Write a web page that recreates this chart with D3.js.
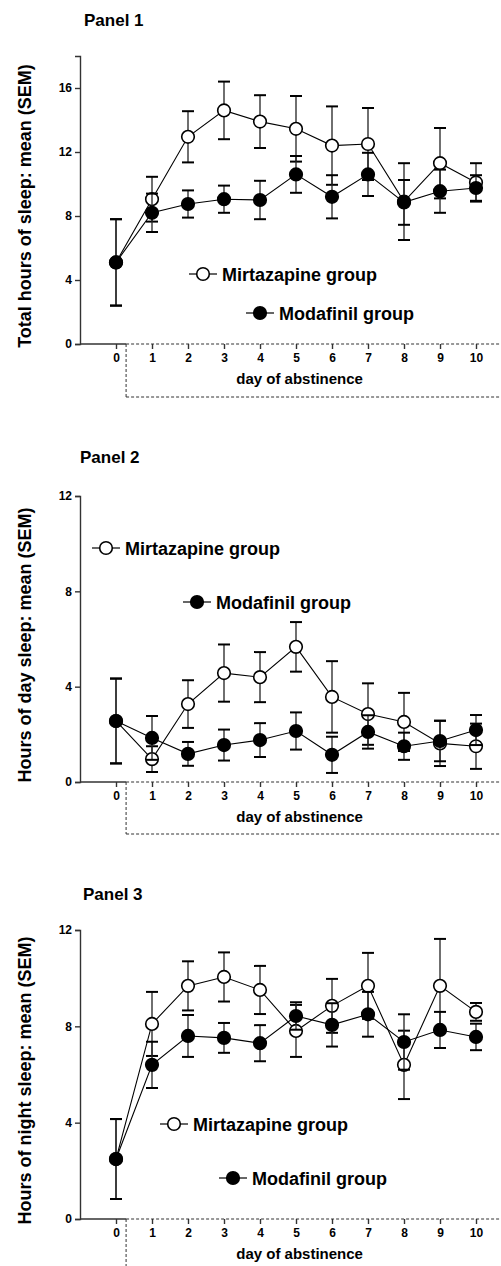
<!DOCTYPE html>
<html>
<head>
<meta charset="utf-8">
<script src="https://cdn.jsdelivr.net/npm/d3@7"></script>
<style>
  html, body { margin: 0; padding: 0; background: #fff; }
  svg { display: block; font-family: "Liberation Sans", Arial, sans-serif; font-weight: bold; }
</style>
</head>
<body>
<svg id="chart" width="501" height="1266"></svg>
<script>
// Days of abstinence on the x axis
const days = [0, 1, 2, 3, 4, 5, 6, 7, 8, 9, 10];

// Panel 1: total hours of sleep
const totalMirtazapine    = [5.1, 9.05, 12.95, 14.6, 13.9, 13.45, 12.4, 12.5, 8.9, 11.3, 10.1];
const totalMirtazapineSem = [2.7, 1.4, 1.6, 1.8, 1.65, 2.05, 2.45, 2.25, 2.4, 2.2, 1.2];
const totalModafinil      = [5.1, 8.2, 8.75, 9.05, 9.0, 10.6, 9.2, 10.6, 8.85, 9.55, 9.75];
const totalModafinilSem   = [2.7, 1.2, 0.85, 0.85, 1.2, 1.15, 1.35, 1.35, 1.4, 1.35, 0.8];

// Panel 2: hours of day sleep
const dayMirtazapine    = [2.56, 0.96, 3.27, 4.57, 4.4, 5.67, 3.57, 2.85, 2.52, 1.62, 1.5];
const dayMirtazapineSem = [1.78, 0.54, 1.0, 1.2, 1.05, 1.04, 1.5, 1.29, 1.22, 0.95, 0.95];
const dayModafinil      = [2.56, 1.85, 1.18, 1.55, 1.76, 2.14, 1.14, 2.1, 1.5, 1.72, 2.18];
const dayModafinilSem   = [1.78, 0.92, 0.5, 0.65, 0.71, 0.78, 0.76, 0.7, 0.57, 0.85, 0.63];

// Panel 3: hours of night sleep
const nightMirtazapine    = [2.49, 8.1, 9.68, 10.05, 9.51, 7.81, 8.85, 9.68, 6.4, 9.68, 8.6];
const nightMirtazapineSem = [1.66, 1.33, 1.02, 1.02, 1.0, 1.08, 1.12, 1.37, 1.42, 1.95, 0.37];
const nightModafinil      = [2.49, 6.4, 7.6, 7.52, 7.3, 8.43, 8.06, 8.5, 7.35, 7.85, 7.56];
const nightModafinilSem   = [1.66, 0.96, 0.87, 0.62, 0.75, 0.57, 0.9, 0.93, 1.15, 0.75, 0.55];

// Tick labels
const yTicksTotal = [0, 4, 8, 12, 16];
const yTicksPart  = [0, 4, 8, 12];

const seriesNames = ["Mirtazapine group", "Modafinil group"];
const panelTitles = ["Panel 1", "Panel 2", "Panel 3"];
const yTitles = [
  "Total hours of sleep: mean (SEM)",
  "Hours of day sleep: mean (SEM)",
  "Hours of night sleep: mean (SEM)"
];
const xTitle = "day of abstinence";

// Layout of each panel (pixels)
const layout = [
  { yMax: 18, ticks: yTicksTotal, top: 56,  bottom: 344,  titleX: 84, titleY: 26,
    boxBottom: 397, legend: [[203, 274], [260, 313]],
    mean: [totalMirtazapine, totalModafinil], sem: [totalMirtazapineSem, totalModafinilSem] },
  { yMax: 12, ticks: yTicksPart,  top: 496, bottom: 782,  titleX: 80, titleY: 463,
    boxBottom: 834, legend: [[106, 548], [197, 602]],
    mean: [dayMirtazapine, dayModafinil], sem: [dayMirtazapineSem, dayModafinilSem] },
  { yMax: 12, ticks: yTicksPart,  top: 930, bottom: 1219, titleX: 83, titleY: 900,
    boxBottom: null, legend: [[174, 1124], [233, 1178]],
    mean: [nightMirtazapine, nightModafinil], sem: [nightMirtazapineSem, nightModafinilSem] }
];

const svg = d3.select("#chart");
const x = d3.scaleLinear().domain([-1, 10.7]).range([80, 501.2]);
const boxLeft = x(0.28);
const ink = "#000";
const axisInk = "#333";
const R = 6.3;

function marker(g, cx, cy, filled) {
  g.append("circle")
    .attr("cx", cx).attr("cy", cy).attr("r", R)
    .attr("fill", filled ? ink : "#fff")
    .attr("stroke", ink).attr("stroke-width", 1.6);
}

layout.forEach((p, i) => {
  const g = svg.append("g");
  const y = d3.scaleLinear().domain([0, p.yMax]).range([p.bottom, p.top]);

  // panel title
  g.append("text").attr("x", p.titleX).attr("y", p.titleY)
    .attr("font-size", 17).text(panelTitles[i]);

  // y axis
  const yAxis = g.append("g").attr("transform", `translate(${x(-1)},0)`)
    .call(d3.axisLeft(y).tickValues(p.ticks).tickSize(5).tickPadding(3).tickFormat(d3.format("d")));
  yAxis.select(".domain").attr("stroke", axisInk).attr("stroke-width", 1.4);
  yAxis.selectAll(".tick line").attr("stroke", axisInk).attr("stroke-width", 1.4);
  yAxis.selectAll(".tick text").attr("font-size", 12).attr("font-family", "Liberation Sans, Arial, sans-serif")
    .attr("font-weight", "bold").attr("fill", ink);

  // y title
  g.append("text")
    .attr("transform", `translate(31,${(p.top + p.bottom) / 2 + (i === 0 ? 6 : 6)}) rotate(-90)`)
    .attr("text-anchor", "middle").attr("font-size", 18).text(yTitles[i]);

  // x axis (ticks and labels)
  const xAxis = g.append("g").attr("transform", `translate(0,${p.bottom})`)
    .call(d3.axisBottom(x).tickValues(days).tickSize(5).tickPadding(4).tickFormat(d3.format("d")));
  xAxis.select(".domain").remove();
  xAxis.selectAll(".tick line").attr("stroke", axisInk).attr("stroke-width", 1.4);
  xAxis.selectAll(".tick text").attr("font-size", 12).attr("font-family", "Liberation Sans, Arial, sans-serif")
    .attr("font-weight", "bold").attr("fill", ink);

  // solid start of the x axis line
  g.append("line").attr("x1", x(-1)).attr("x2", boxLeft)
    .attr("y1", p.bottom).attr("y2", p.bottom)
    .attr("stroke", axisInk).attr("stroke-width", 1.4);

  // dashed frame around the day axis
  const dash = "3,2";
  g.append("line").attr("x1", boxLeft).attr("x2", 501)
    .attr("y1", p.bottom).attr("y2", p.bottom)
    .attr("stroke", axisInk).attr("stroke-width", 1.2).attr("stroke-dasharray", dash);
  const yEnd = p.boxBottom === null ? 1266 : p.boxBottom;
  g.append("line").attr("x1", boxLeft).attr("x2", boxLeft)
    .attr("y1", p.bottom).attr("y2", yEnd)
    .attr("stroke", axisInk).attr("stroke-width", 1).attr("stroke-dasharray", dash);
  if (p.boxBottom !== null) {
    g.append("line").attr("x1", boxLeft).attr("x2", 501)
      .attr("y1", p.boxBottom).attr("y2", p.boxBottom)
      .attr("stroke", axisInk).attr("stroke-width", 1).attr("stroke-dasharray", dash);
  }

  // x title
  g.append("text").attr("x", x(5.1)).attr("y", p.bottom + 40)
    .attr("text-anchor", "middle").attr("font-size", 15).text(xTitle);

  // legend
  p.legend.forEach(([cx, cy], s) => {
    g.append("line").attr("x1", cx - 14).attr("x2", cx + 14)
      .attr("y1", cy).attr("y2", cy).attr("stroke", ink).attr("stroke-width", 1.2);
    marker(g, cx, cy, s === 1);
    g.append("text").attr("x", cx + 19).attr("y", cy + 6.5)
      .attr("font-size", 18).text(seriesNames[s]);
  });

  // series: open circles first, filled circles on top
  [0, 1].forEach(s => {
    const rows = days.map((d, k) => ({ d, m: p.mean[s][k], e: p.sem[s][k] }));
    const sg = g.append("g");

    const eb = sg.selectAll(".eb").data(rows).join("g");
    eb.append("line")
      .attr("x1", r => x(r.d)).attr("x2", r => x(r.d))
      .attr("y1", r => y(r.m + r.e)).attr("y2", r => y(r.m - r.e))
      .attr("stroke", "#222").attr("stroke-width", 1.3);
    [1, -1].forEach(sign => {
      eb.append("line")
        .attr("x1", r => x(r.d) - 6).attr("x2", r => x(r.d) + 6)
        .attr("y1", r => y(r.m + sign * r.e)).attr("y2", r => y(r.m + sign * r.e))
        .attr("stroke", ink).attr("stroke-width", 2);
    });

    sg.append("path").datum(rows)
      .attr("d", d3.line().x(r => x(r.d)).y(r => y(r.m)))
      .attr("fill", "none").attr("stroke", ink).attr("stroke-width", 1.1);

    rows.forEach(r => marker(sg, x(r.d), y(r.m), s === 1));
  });
});
</script>
</body>
</html>
